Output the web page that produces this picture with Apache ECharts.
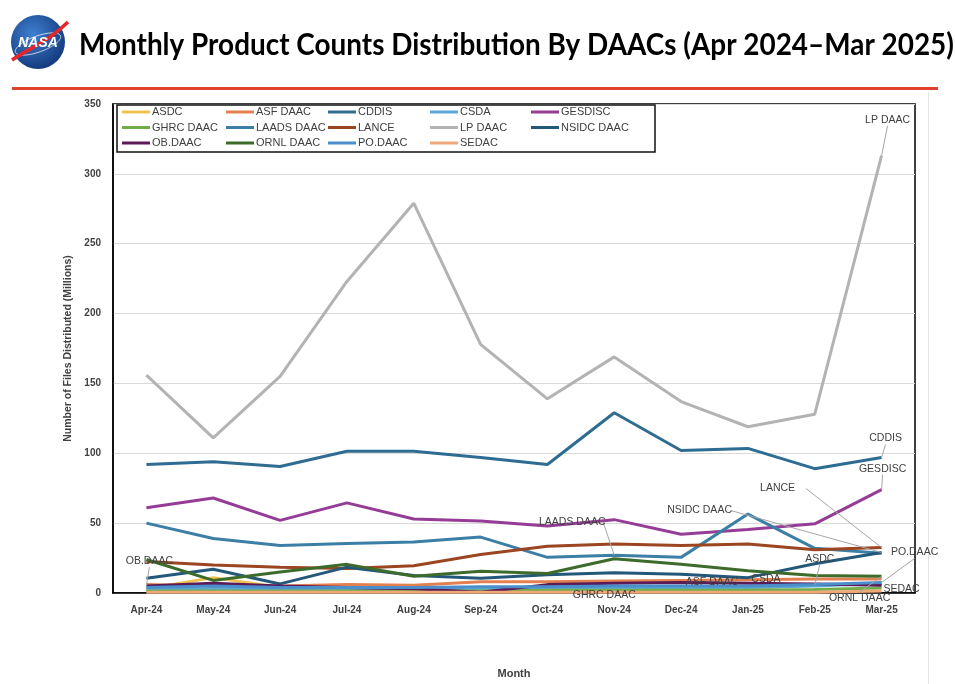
<!DOCTYPE html>
<html>
<head>
<meta charset="utf-8">
<title>Monthly Product Counts Distribution By DAACs</title>
<script src="https://cdn.jsdelivr.net/npm/echarts@6/dist/echarts.min.js"></script>
<style>
  html, body { margin: 0; padding: 0; background: #fff; }
  #chart { width: 955px; height: 684px; }
</style>
</head>
<body>
<div id="chart"></div>
<script>
// months on the x axis
var months = ['Apr-24', 'May-24', 'Jun-24', 'Jul-24', 'Aug-24', 'Sep-24',
              'Oct-24', 'Nov-24', 'Dec-24', 'Jan-25', 'Feb-25', 'Mar-25'];

// files distributed per month, millions
var asdc     = [3, 11, 4, 3, 3, 2, 2, 2, 2, 3, 6, 6];
var asfDaac  = [6, 5, 5, 6, 5.5, 8, 8, 8.5, 9, 9.5, 10, 10];
var cddis    = [92, 94, 90.5, 101.5, 101.5, 97, 92, 129, 102, 103.5, 89, 97];
var csda     = [2.5, 3, 3, 3, 3, 3, 3, 3.5, 4, 4, 5, 7];
var gesdisc  = [61, 68, 52, 64.5, 53, 51.5, 48, 52.5, 42, 45.5, 49.5, 74];
var ghrcDaac = [1.5, 1.5, 1.5, 1.5, 1.5, 1.5, 2, 2, 2, 2, 2.5, 3.5];
var laadsDaac= [50, 39, 34, 35.5, 36.5, 40, 25.5, 27, 25.5, 56.5, 32, 28.5];
var lance    = [22.5, 20, 18.5, 17.5, 19.5, 27.5, 33.5, 35, 34, 35, 31, 32.5];
var lpDaac   = [156, 111, 155, 223, 279, 178, 139, 169, 137, 119, 128, 313];
var nsidcDaac= [10.5, 17, 6.5, 18.5, 12.5, 10.5, 13, 14.5, 13.5, 11, 21, 29];
var obDaac   = [5, 7, 5, 4, 3, 0.5, 6, 7, 7.5, 7, 6.5, 5.5];
var ornlDaac = [24, 9, 15, 20.5, 12, 15.5, 14, 24.5, 20.5, 16, 12.5, 12];
var poDaac   = [4, 5, 4, 4, 4, 4.5, 4.5, 5, 5, 5, 6, 7.5];
var sedac    = [0.5, 0.5, 0.5, 0.5, 0.5, 0.5, 0.5, 0.5, 0.5, 0.5, 0.5, 1.5];

var yTicks = [0, 50, 100, 150, 200, 250, 300, 350];

(function (window, echarts) {
    'use strict';

    var names  = ['ASDC', 'ASF DAAC', 'CDDIS', 'CSDA', 'GESDISC',
                  'GHRC DAAC', 'LAADS DAAC', 'LANCE', 'LP DAAC', 'NSIDC DAAC',
                  'OB.DAAC', 'ORNL DAAC', 'PO.DAAC', 'SEDAC'];
    var values = [asdc, asfDaac, cddis, csda, gesdisc,
                  ghrcDaac, laadsDaac, lance, lpDaac, nsidcDaac,
                  obDaac, ornlDaac, poDaac, sedac];
    var colors = ['#f2c24f', '#e2804f', '#2f6c92', '#5ba8d6', '#953d96',
                  '#72ad4c', '#3b7fa6', '#9c4521', '#b3b3b3', '#24587a',
                  '#5a1b56', '#3d6b2b', '#4a8fcc', '#f0a878'];

    // where each data label sits relative to its point: [series, month index, dx, dy, leader]
    var dataLabels = [
        ['LP DAAC', 11, 6, -36, true],
        ['CDDIS', 11, 4, -19, true],
        ['GESDISC', 11, 1, -21, true],
        ['LANCE', 11, -104, -59, true],
        ['NSIDC DAAC', 11, -182, -42, true],
        ['LAADS DAAC', 7, -42, -33, true],
        ['PO.DAAC', 11, 33, -30, true],
        ['ASDC', 10, 5, -26, true],
        ['CSDA', 9, 18, -8, false],
        ['ASF DAAC', 8, 31, 2, false],
        ['GHRC DAAC', 7, -10, 5, false],
        ['OB.DAAC', 0, 3, -25, true],
        ['SEDAC', 11, 20, -2, false],
        ['ORNL DAAC', 11, -22, 22, true]
    ];

    var chart = echarts.init(document.getElementById('chart'));

    var series = names.map(function (n, i) {
        return {
            name: n,
            type: 'line',
            data: values[i],
            showSymbol: false,
            lineStyle: { width: 3, color: colors[i] },
            itemStyle: { color: colors[i] },
            emphasis: { disabled: true }
        };
    });

    // five legend columns, three rows each
    var colLeft = [122, 226, 328, 430, 531];
    var legends = colLeft.map(function (x, c) {
        var d = [];
        for (var k = c; k < names.length; k += 5) d.push(names[k]);
        return {
            data: d,
            orient: 'vertical',
            left: x,
            top: 105.5,
            padding: 0,
            itemGap: 2.5,
            itemWidth: 28,
            itemHeight: 3,
            icon: 'rect',
            selectedMode: false,
            textStyle: {
                fontFamily: 'Liberation Sans',
                fontSize: 11,
                lineHeight: 13,
                color: '#404040',
                padding: [0, 0, 0, -3]
            }
        };
    });

    var option = {
        animation: false,
        backgroundColor: '#fff',
        legend: legends,
        grid: {
            left: 113, right: 40, top: 104, bottom: 90,
            show: true, borderColor: '#000', borderWidth: 1.5,
            backgroundColor: 'transparent'
        },
        xAxis: {
            type: 'category',
            data: months,
            name: 'Month',
            nameLocation: 'middle',
            nameGap: 75,
            nameTextStyle: { fontFamily: 'Liberation Sans', fontWeight: 'bold', fontSize: 11, color: '#404040' },
            axisLine: { lineStyle: { color: '#000', width: 1.5 } },
            axisTick: { show: false },
            axisLabel: { margin: 12, fontFamily: 'Liberation Sans', fontWeight: 'bold', fontSize: 10, color: '#404040' }
        },
        yAxis: {
            type: 'value',
            min: yTicks[0],
            max: yTicks[yTicks.length - 1],
            interval: yTicks[1] - yTicks[0],
            name: 'Number of Files Distributed (Millions)',
            nameLocation: 'middle',
            nameGap: 37,
            nameTextStyle: { fontFamily: 'Liberation Sans', fontWeight: 'bold', fontSize: 10.5, color: '#404040' },
            axisLine: { show: true, lineStyle: { color: '#000', width: 1.5 } },
            axisTick: { show: false },
            axisLabel: { margin: 12, fontFamily: 'Liberation Sans', fontWeight: 'bold', fontSize: 10, color: '#404040' },
            splitLine: { lineStyle: { color: '#d9d9d9', width: 1 } }
        },
        series: series
    };

    chart.setOption(option);

    // header: logo, title, red rule, plus the legend frame
    var graphics = [
        { type: 'rect', shape: { x: 928, y: 92, width: 1, height: 592 }, style: { fill: '#e3e3e3' }, silent: true },
        { type: 'rect', z: 2, shape: { x: 117, y: 105, width: 538, height: 47 },
          style: { fill: '#fff', stroke: '#111', lineWidth: 1.5 }, silent: true },
        { type: 'circle', shape: { cx: 38, cy: 42, r: 27 },
          style: { fill: new echarts.graphic.RadialGradient(0.4, 0.35, 0.8, [
              { offset: 0, color: '#3f7fd0' }, { offset: 1, color: '#0b2d6e' }]) }, silent: true },
        { type: 'ellipse', shape: { cx: 38, cy: 44, rx: 24, ry: 8 }, rotation: 0.35, originX: 38, originY: 44,
          style: { fill: null, stroke: '#ffffff', lineWidth: 0.8, opacity: 0.8 }, silent: true },
        { type: 'bezierCurve', shape: { x1: 12, y1: 60, cpx1: 30, cpy1: 48, cpx2: 50, cpy2: 40, x2: 68, y2: 22 },
          style: { stroke: '#e3262b', lineWidth: 3.5, fill: null }, silent: true },
        { type: 'text', x: 38, y: 43, silent: true,
          style: { text: 'NASA', fill: '#fff', font: 'italic bold 14px "Liberation Sans"',
                   textAlign: 'center', textVerticalAlign: 'middle' } },
        { type: 'text', x: 79, y: 45, silent: true, scaleX: 0.93, originX: 0,
          style: { text: 'Monthly Product Counts Distribution By DAACs (Apr 2024\u2013Mar 2025)',
                   fill: '#000', font: 'bold 30px Lato', textVerticalAlign: 'middle' } },
        { type: 'rect', shape: { x: 12, y: 87, width: 926, height: 3 }, style: { fill: '#e0412f' }, silent: true }
    ];

    // data labels and leader lines, placed from each point's pixel position
    dataLabels.forEach(function (spec) {
        var si = names.indexOf(spec[0]);
        var p = chart.convertToPixel({ gridIndex: 0 }, [months[spec[1]], values[si][spec[1]]]);
        var tx = p[0] + spec[2], ty = p[1] + spec[3];
        if (spec[4]) {
            var ey = ty + (spec[3] < 0 ? 6 : -6);
            var ex = tx;
            if (Math.abs(spec[2]) > 40) {
                ex = tx + (spec[2] < 0 ? 26 + spec[0].length * 0.5 : -26);
                ey = ty;
            }
            graphics.push({
                type: 'line', z: 50, silent: true,
                shape: { x1: ex, y1: ey, x2: p[0], y2: p[1] },
                style: { stroke: '#a6a6a6', lineWidth: 1 }
            });
        }
        graphics.push({
            type: 'text', z: 60, x: tx, y: ty, silent: true,
            style: { text: spec[0], fill: '#404040', font: '10.5px "Liberation Sans"',
                     textAlign: 'center', textVerticalAlign: 'middle' }
        });
    });

    chart.setOption({ graphic: graphics });

    window.addEventListener('resize', function () { chart.resize(); });

})(window, window.echarts);
</script>
</body>
</html>
